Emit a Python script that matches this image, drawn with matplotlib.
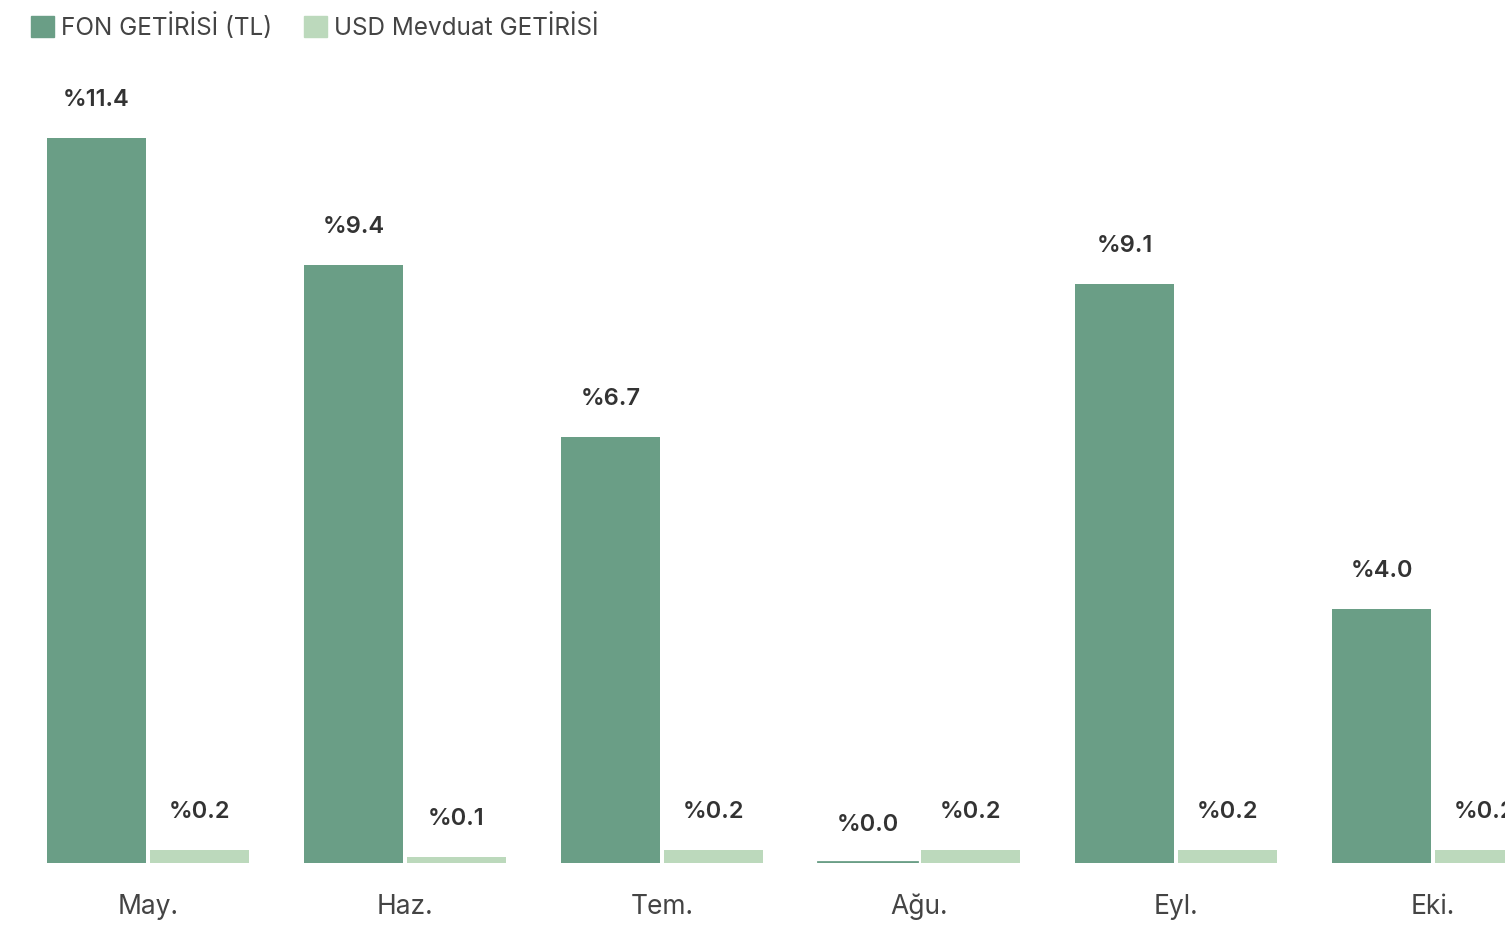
import matplotlib
matplotlib.use("Agg")
import matplotlib.pyplot as plt
from matplotlib.patches import Patch
import numpy as np

plt.rcParams['font.family'] = ['Inter', 'DejaVu Sans']

# data
months = ['May.', 'Haz.', 'Tem.', 'Ağu.', 'Eyl.', 'Eki.']
fon_getiri = [11.4, 9.4, 6.7, 0.0, 9.1, 4.0]
usd_getiri = [0.2, 0.1, 0.2, 0.2, 0.2, 0.2]
series_names = ['FON GETİRİSİ (TL)', 'USD Mevduat GETİRİSİ']

fon_color = '#6a9e86'
usd_color = '#bcd9bc'
text_color = '#333333'

fig = plt.figure(figsize=(15.05, 9.26), dpi=100)
ax = fig.add_axes([0.0, 0.068, 1.0, 0.932])

x = np.arange(len(months))
w = 0.385
b1 = ax.bar(x - 0.2, fon_getiri, w, color=fon_color)
b2 = ax.bar(x + 0.2, usd_getiri, w, color=usd_color)

# thin line for zero-valued bars
for xi, v in zip(x, fon_getiri):
    if v == 0:
        ax.plot([xi - 0.2 - w / 2, xi - 0.2 + w / 2], [0.02, 0.02], color=fon_color, lw=2)

for bars, vals in ((b1, fon_getiri), (b2, usd_getiri)):
    for rect, v in zip(bars, vals):
        ax.annotate(f'%{v:.1f}', (rect.get_x() + rect.get_width() / 2, rect.get_height()),
                    xytext=(0, 38), textcoords='offset pixels', ha='center', va='center',
                    fontsize=17, fontweight='semibold', color=text_color)

ax.set_xlim(-148 / 257, (1505 - 148) / 257)
ax.set_ylim(0, 863 / 63.6)
ax.set_xticks(x)
ax.set_xticklabels(months, fontsize=19, color='#444444')
ax.tick_params(axis='x', length=0, pad=22)
ax.set_yticks([])
for s in ax.spines.values():
    s.set_visible(False)

handles = [Patch(color=fon_color), Patch(color=usd_color)]
fig.legend(handles, series_names, loc='upper left', bbox_to_anchor=(0.006, 1.01),
           ncol=2, frameon=False, fontsize=17.5, handlelength=0.95, handleheight=0.95,
           handletextpad=0.3, columnspacing=1.3, labelcolor='#444444')

fig.savefig('out.png', dpi=100)
